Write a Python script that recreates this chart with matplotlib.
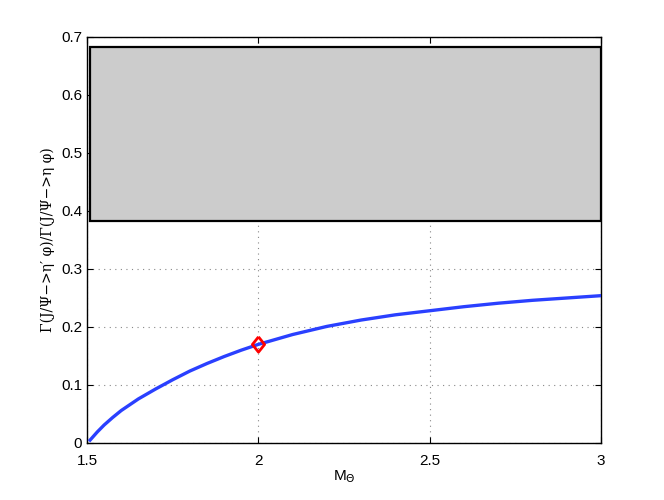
import matplotlib.pyplot as plt
from matplotlib.patches import Rectangle

plt.rcParams['font.family'] = ['Liberation Sans', 'DejaVu Sans']

# curve
m_theta = [1.509, 1.53, 1.55, 1.575, 1.6, 1.65, 1.7, 1.75, 1.8, 1.85, 1.9, 1.95, 2.0,
           2.1, 2.2, 2.3, 2.4, 2.5, 2.6, 2.7, 2.8, 2.9, 3.0]
ratio = [0.005, 0.019, 0.031, 0.044, 0.056, 0.076, 0.093, 0.109, 0.124, 0.137, 0.149, 0.160, 0.170,
         0.187, 0.201, 0.212, 0.221, 0.228, 0.235, 0.241, 0.246, 0.250, 0.254]

# experimental band
band_x = [1.508, 3.0]
band_y = [0.383, 0.683]

# marked point
point_x = [2.0]
point_y = [0.170]

xticks = [1.5, 2, 2.5, 3]
xticklabels = ['1.5', '2', '2.5', '3']
yticks = [0, 0.1, 0.2, 0.3, 0.4, 0.5, 0.6, 0.7]
yticklabels = ['0', '0.1', '0.2', '0.3', '0.4', '0.5', '0.6', '0.7']

fig = plt.figure(figsize=(6.64, 5), dpi=100)
ax = fig.add_axes([0.131, 0.114, 0.774, 0.812])

ax.add_patch(Rectangle((band_x[0], band_y[0]), band_x[1] - band_x[0], band_y[1] - band_y[0],
                       facecolor='#cccccc', edgecolor='black', linewidth=1.6, zorder=3))
ax.plot(m_theta, ratio, color='#2a40ff', linewidth=2.4, zorder=4)
diamond = [(0, 1), (0.8, 0), (0, -1), (-0.8, 0), (0, 1)]
ax.plot(point_x, point_y, linestyle='none', marker=diamond, markersize=11,
        markerfacecolor='none', markeredgecolor='red', markeredgewidth=2, zorder=5)

ax.set_xlim(1.5, 3)
ax.set_ylim(0, 0.7)
ax.set_xticks(xticks)
ax.set_xticklabels(xticklabels)
ax.set_yticks(yticks)
ax.set_yticklabels(yticklabels)
ax.tick_params(direction='in', top=True, right=True, labelsize=11, length=4)
ax.tick_params(axis='x', pad=8)
ax.grid(True, linestyle=(0, (1, 4)), color='#888888', linewidth=0.8)
ax.set_axisbelow(True)
for s in ax.spines.values():
    s.set_linewidth(1.0)

ax.set_xlabel(r'M$_\Theta$', fontsize=11, labelpad=0)
ax.set_ylabel('Γ(J/Ψ−>η′ φ)/Γ(J/Ψ−>η φ)', fontsize=10, family=['DejaVu Serif'])

fig.savefig('out.png', dpi=100)
